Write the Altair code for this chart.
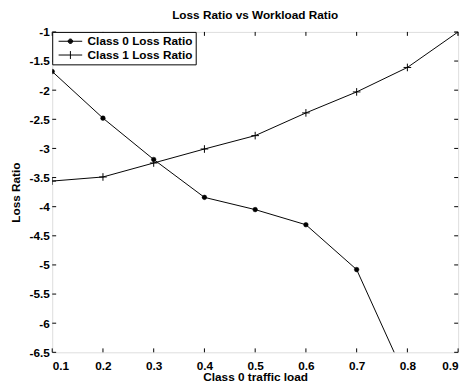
import altair as alt
import pandas as pd

# ---- data ----
series_names = ["Class 0 Loss Ratio", "Class 1 Loss Ratio"]
class0_x = [0.1, 0.2, 0.3, 0.4, 0.5, 0.6, 0.7, 0.8]
class0_y = [-1.68, -2.48, -3.19, -3.84, -4.05, -4.31, -5.08, -7.0]
class1_x = [0.1, 0.2, 0.3, 0.4, 0.5, 0.6, 0.7, 0.8, 0.9]
class1_y = [-3.56, -3.49, -3.25, -3.01, -2.78, -2.39, -2.03, -1.61, -1.0]
x_ticks = [0.1, 0.2, 0.3, 0.4, 0.5, 0.6, 0.7, 0.8, 0.9]
y_ticks = [-1, -1.5, -2, -2.5, -3, -3.5, -4, -4.5, -5, -5.5, -6, -6.5]

W, H = 413, 326
FONT = "Liberation Sans"
FS = 12

df0 = pd.DataFrame({"x": class0_x, "y": class0_y, "series": series_names[0]})
df1 = pd.DataFrame({"x": class1_x, "y": class1_y, "series": series_names[1]})
dxt = pd.DataFrame({"x": x_ticks})
dyt = pd.DataFrame({"y": y_ticks})

xscale = alt.Scale(domain=[0.1, 0.9], nice=False, zero=False)
yscale = alt.Scale(domain=[-6.5, -1], nice=False, zero=False)

xaxis = alt.Axis(values=x_ticks, format=".1f", title="Class 0 traffic load",
                 domain=False, ticks=False, grid=False, labelPadding=8,
                 labelFontSize=FS, titleFontSize=FS, labelFont=FONT, titleFont=FONT,
                 labelColor="black", titleColor="black", titleFontWeight="bold",
                 labelFontWeight="bold", titlePadding=1)
yaxis = alt.Axis(values=y_ticks, labelExpr="'' + datum.value", title="Loss Ratio",
                 domain=False, ticks=False, grid=False, labelPadding=3,
                 labelFontSize=FS, titleFontSize=FS, labelFont=FONT, titleFont=FONT,
                 labelColor="black", titleColor="black", titleFontWeight="bold",
                 labelFontWeight="bold", titlePadding=7)

X = alt.X("x:Q", scale=xscale, axis=xaxis)
Y = alt.Y("y:Q", scale=yscale, axis=yaxis)

plus_path = "M0,-1V1M-1,0H1"
# legend symbols: a line segment plus the marker (dot drawn as concentric rings)
rings = "".join(
    f"M{-r},0A{r},{r},0,1,0,{r},0A{r},{r},0,1,0,{-r},0" for r in (0.06, 0.14, 0.22, 0.3, 0.38)
)
leg_dot = "M-2,0H2" + rings
leg_plus = "M-2,0H2M0,-0.67V0.67"

line0 = alt.Chart(df0).mark_line(color="black", strokeWidth=1, clip=True).encode(x=X, y=Y)
line1 = alt.Chart(df1).mark_line(color="black", strokeWidth=1, clip=True).encode(x=X, y=Y)
pts0 = alt.Chart(df0).mark_point(shape="circle", filled=True, fill="black", stroke="black",
                                 strokeWidth=0.5, size=22, opacity=1, clip=True).encode(x=X, y=Y)
pts1 = alt.Chart(df1).mark_point(shape=plus_path, filled=False, stroke="black",
                                 strokeWidth=1, size=60, opacity=1, clip=True).encode(x=X, y=Y)

legend_layer = alt.Chart(df0).transform_filter("false").mark_point(
    filled=False, stroke="black", strokeWidth=1, size=144, opacity=1
).encode(
    x=X, y=Y,
    shape=alt.Shape("series:N",
                    scale=alt.Scale(domain=series_names, range=[leg_dot, leg_plus]),
                    legend=alt.Legend(title=None, orient="top-left", offset=0,
                                      strokeColor="black", fillColor="white",
                                      padding=3, rowPadding=1, labelOffset=11,
                                      symbolOffset=9,
                                      symbolSize=144, symbolStrokeWidth=1,
                                      symbolStrokeColor="black",
                                      labelFont=FONT, labelFontSize=FS, labelColor="black",
                                      labelFontWeight="bold", cornerRadius=0)),
)

tx_bot = alt.Chart(dxt).mark_rule(color="black", strokeWidth=1).encode(
    x=X, y=alt.value(H), y2=alt.value(H - 4))
tx_top = alt.Chart(dxt).mark_rule(color="black", strokeWidth=1).encode(
    x=X, y=alt.value(0), y2=alt.value(4))
ty_left = alt.Chart(dyt).mark_rule(color="black", strokeWidth=1).encode(
    y=Y, x=alt.value(0), x2=alt.value(4))
ty_right = alt.Chart(dyt).mark_rule(color="black", strokeWidth=1).encode(
    y=Y, x=alt.value(W), x2=alt.value(W - 4))

chart = alt.layer(
    line0, line1, pts0, pts1, tx_bot, tx_top, ty_left, ty_right, legend_layer
).properties(
    width=W, height=H,
    title=alt.TitleParams("Loss Ratio vs Workload Ratio", font=FONT, fontSize=FS,
                          fontWeight="bold", color="black", offset=4, anchor="middle"),
    autosize=alt.AutoSizeParams(type="none"),
    padding={"left": 45, "top": 21, "right": 7, "bottom": 35},
).configure_view(
    stroke="black", strokeWidth=1.2
).configure(background="white")

chart.save("out.html", embed_options={"renderer": "svg", "actions": False})
